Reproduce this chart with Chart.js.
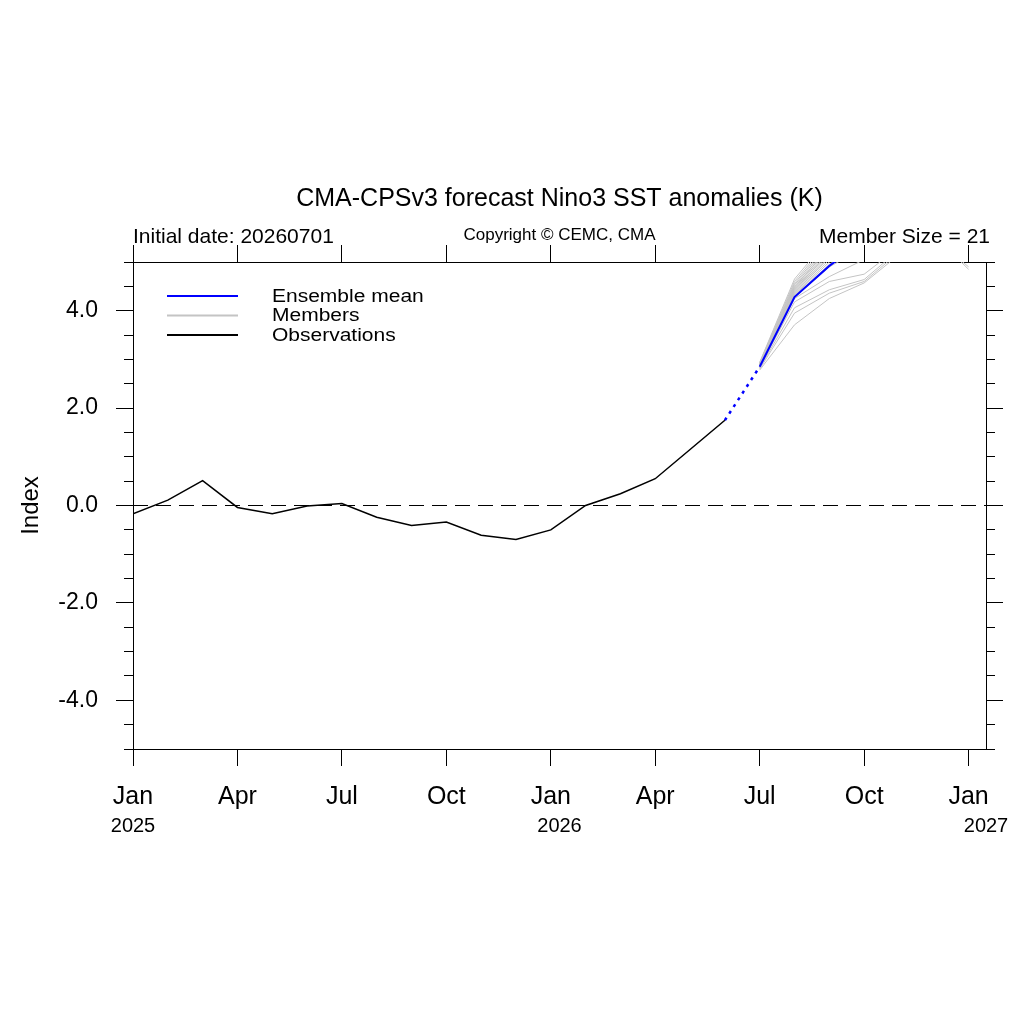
<!DOCTYPE html>
<html>
<head>
<meta charset="utf-8">
<title>CMA-CPSv3 Nino3</title>
<script src="https://cdn.jsdelivr.net/npm/chart.js@4/dist/chart.umd.min.js"></script>
<style>
  html, body { margin: 0; padding: 0; background: #fff; }
  #wrap { width: 1024px; height: 1024px; }
</style>
</head>
<body>
<div id="wrap"><canvas id="nino3Chart" width="1024" height="1024"></canvas></div>
<script>
// month index 0 = Jan 2025
const obsStartMonth = 0;
const obsValues = [-0.17, 0.11, 0.51, -0.04, -0.17, -0.01, 0.04, -0.24, -0.41, -0.34, -0.61, -0.70,
                   -0.50, 0.00, 0.24, 0.55, 1.15, 1.75];

// forecast months Jul 2026 .. Jan 2027
const fcstStartMonth = 18;
const meanValues = [2.85, 4.28, 4.92, 5.45, 5.75, 5.80, 5.65];

const memberValues = [
    [2.78, 3.71, 4.25, 4.57, 5.15, 5.40, 5.30],
    [2.80, 3.95, 4.36, 4.60, 5.20, 5.50, 5.40],
    [2.82, 4.06, 4.43, 4.64, 5.25, 5.60, 5.50],
    [2.83, 4.18, 4.60, 4.75, 5.30, 5.55, 4.85],
    [2.84, 4.25, 4.70, 5.05, 5.40, 5.60, 5.50],
    [2.85, 4.28, 4.90, 5.30, 5.60, 5.80, 5.70],
    [2.86, 4.30, 4.95, 5.40, 5.70, 5.90, 5.80],
    [2.86, 4.32, 5.00, 5.50, 5.80, 6.00, 5.90],
    [2.87, 4.34, 5.05, 5.45, 5.75, 5.50, 4.90],
    [2.87, 4.36, 5.10, 5.60, 5.90, 6.10, 6.00],
    [2.88, 4.38, 5.10, 5.50, 5.80, 5.90, 5.80],
    [2.88, 4.40, 5.15, 5.60, 5.90, 6.00, 5.90],
    [2.89, 4.42, 5.20, 5.70, 6.00, 6.20, 6.10],
    [2.89, 4.44, 5.20, 5.60, 5.90, 6.00, 5.90],
    [2.90, 4.46, 5.25, 5.70, 6.10, 6.30, 6.20],
    [2.90, 4.48, 5.30, 5.80, 6.10, 6.20, 6.00],
    [2.91, 4.50, 5.30, 5.70, 6.00, 6.10, 6.00],
    [2.91, 4.53, 5.35, 5.80, 6.20, 6.40, 6.30],
    [2.92, 4.56, 5.40, 5.90, 6.20, 6.30, 6.20],
    [2.93, 4.60, 5.45, 5.90, 6.30, 6.50, 6.40],
    [2.94, 4.65, 5.50, 6.00, 6.40, 6.60, 6.50]
];

const monthTicks = [0, 3, 6, 9, 12, 15, 18, 21, 24];
const monthNames = ["Jan", "Apr", "Jul", "Oct", "Jan", "Apr", "Jul", "Oct", "Jan"];
const yearLabels = ["2025", "2026", "2027"];
const yearPositions = [0, 12.25, 24.5];
const majorYTicks = [-4, -2, 0, 2, 4];
const minorYTicks = [-5, -4.5, -4, -3.5, -3, -2.5, -2, -1.5, -1, -0.5, 0,
                     0.5, 1, 1.5, 2, 2.5, 3, 3.5, 4, 4.5, 5];
const xMin = 0, xMax = 24.5;
const yMin = -5, yMax = 5;

const FONT = "'Liberation Sans', Arial, Helvetica, sans-serif";

function toPoints(values, start) {
    return values.map((v, i) => ({ x: start + i, y: v }));
}

const obsPoints = toPoints(obsValues, obsStartMonth);
const meanPoints = toPoints(meanValues, fcstStartMonth);
const linkPoints = [obsPoints[obsPoints.length - 1], meanPoints[0]];

const datasets = [
    { label: "Observations", data: obsPoints, borderColor: "#000", borderWidth: 1.5 },
    { label: "Ensemble mean", data: meanPoints, borderColor: "#0000ff", borderWidth: 2 },
    { label: "link", data: linkPoints, borderColor: "#0000ff", borderWidth: 2.5, borderDash: [3, 5] },
    { label: "zero", data: [{ x: xMin, y: 0 }, { x: xMax, y: 0 }], borderColor: "#000", borderWidth: 1.2, borderDash: [15, 8] }
];
memberValues.forEach((vals, k) => {
    datasets.push({ label: "m" + (k + 1), data: toPoints(vals, fcstStartMonth), borderColor: "#c4c4c4", borderWidth: 1 });
});

function setTicks(values) {
    return (scale) => { scale.ticks = values.map(v => ({ value: v })); };
}

function sizeBox(prop, size) {
    return (scale) => { scale[prop] = size; };
}

const tickGrid = (len) => ({ drawOnChartArea: false, drawTicks: true, tickLength: len, tickColor: "#000", tickWidth: 1 });

const textPlugin = {
    id: "textPlugin",
    afterDraw(chart) {
        const ctx = chart.ctx;
        const area = chart.chartArea;
        const xs = chart.scales.x;
        ctx.save();
        ctx.fillStyle = "#000";
        ctx.textBaseline = "middle";

        ctx.font = "25px " + FONT;
        ctx.textAlign = "center";
        ctx.fillText("CMA-CPSv3 forecast Nino3 SST anomalies (K)", (area.left + area.right) / 2, 199);

        ctx.font = "21px " + FONT;
        ctx.textAlign = "left";
        ctx.fillText("Initial date: 20260701", area.left, 237);
        ctx.textAlign = "right";
        ctx.fillText("Member Size = 21", area.right + 4, 237);
        ctx.font = "17px " + FONT;
        ctx.textAlign = "center";
        ctx.fillText("Copyright \u00A9 CEMC, CMA", (area.left + area.right) / 2, 235);

        ctx.font = "20px " + FONT;
        yearLabels.forEach((lab, i) => {
            ctx.fillText(lab, xs.getPixelForValue(yearPositions[i]), 826);
        });

        // legend
        const rows = [
            { text: "Ensemble mean", color: "#0000ff" },
            { text: "Members", color: "#c4c4c4" },
            { text: "Observations", color: "#000" }
        ];
        ctx.textAlign = "left";
        rows.forEach((r, i) => {
            const y = 296 + i * 19.5;
            ctx.strokeStyle = r.color;
            ctx.lineWidth = 2;
            ctx.beginPath();
            ctx.moveTo(167, y);
            ctx.lineTo(238, y);
            ctx.stroke();
            ctx.save();
            ctx.translate(272, y);
            ctx.scale(1.2, 1);
            ctx.font = "17.5px " + FONT;
            ctx.fillText(r.text, 0, 1);
            ctx.restore();
        });
        ctx.restore();
    }
};

new Chart(document.getElementById("nino3Chart"), {
    type: "line",
    data: { datasets: datasets },
    options: {
        responsive: false,
        animation: false,
        devicePixelRatio: 1,
        layout: { padding: 0 },
        elements: { point: { radius: 0 }, line: { tension: 0 } },
        plugins: { legend: { display: false }, tooltip: { enabled: false } },
        scales: {
            x: {
                type: "linear", position: "bottom", min: xMin, max: xMax,
                afterBuildTicks: setTicks(monthTicks),
                afterFit: sizeBox("height", 275),
                grid: tickGrid(17),
                border: { display: true, color: "#000", width: 1 },
                ticks: {
                    autoSkip: false, maxRotation: 0, padding: 16, color: "#000",
                    font: { family: FONT, size: 25 },
                    callback: (v, i) => monthNames[i]
                }
            },
            xTop: {
                type: "linear", position: "top", min: xMin, max: xMax,
                afterBuildTicks: setTicks(monthTicks),
                afterFit: sizeBox("height", 262),
                grid: tickGrid(17),
                border: { display: true, color: "#000", width: 1 },
                ticks: { display: false }
            },
            y: {
                type: "linear", position: "left", min: yMin, max: yMax, weight: 1,
                afterBuildTicks: setTicks(majorYTicks),
                afterFit: sizeBox("width", 133),
                grid: tickGrid(17),
                border: { display: true, color: "#000", width: 1 },
                ticks: {
                    padding: 18, color: "#000",
                    font: { family: FONT, size: 23 },
                    callback: (v) => v.toFixed(1)
                },
                title: {
                    display: true, text: "Index", color: "#000",
                    font: { family: FONT, size: 24 },
                    padding: { top: 17, bottom: 0 }
                }
            },
            yMinor: {
                type: "linear", position: "left", min: yMin, max: yMax, weight: 0,
                afterBuildTicks: setTicks(minorYTicks),
                afterFit: sizeBox("width", 0),
                grid: tickGrid(9),
                border: { display: false },
                ticks: { display: false }
            },
            yRight: {
                type: "linear", position: "right", min: yMin, max: yMax, weight: 1,
                afterBuildTicks: setTicks(majorYTicks),
                afterFit: sizeBox("width", 38),
                grid: tickGrid(17),
                border: { display: true, color: "#000", width: 1 },
                ticks: { display: false }
            },
            yRightMinor: {
                type: "linear", position: "right", min: yMin, max: yMax, weight: 0,
                afterBuildTicks: setTicks(minorYTicks),
                afterFit: sizeBox("width", 0),
                grid: tickGrid(9),
                border: { display: false },
                ticks: { display: false }
            }
        }
    },
    plugins: [textPlugin]
});
</script>
</body>
</html>
